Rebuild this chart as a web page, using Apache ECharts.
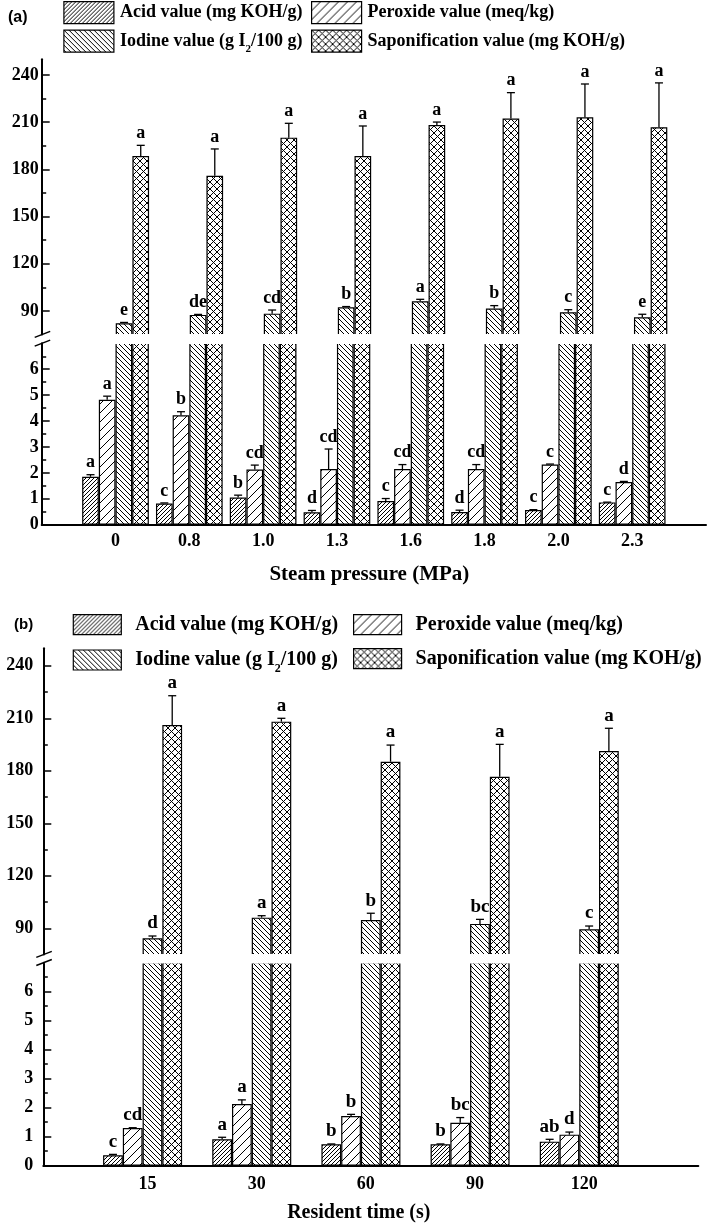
<!DOCTYPE html>
<html><head><meta charset="utf-8">
<script src="https://cdn.jsdelivr.net/npm/echarts@6/dist/echarts.min.js"></script>
<style>html,body{margin:0;padding:0;background:#fff}#c{width:709px;height:1228px}</style>
</head><body><div id="c"></div>
<script>
// ---------- DATA ----------
const NAME_ACID = 'Acid value (mg KOH/g)';
const NAME_PER = 'Peroxide value (meq/kg)';
const NAME_IOD = 'Iodine value (g I2/100 g)';
const NAME_SAP = 'Saponification value (mg KOH/g)';

// Panel (a): steam pressure
const catsA = ['0', '0.8', '1.0', '1.3', '1.6', '1.8', '2.0', '2.3'];
const acidA = [1.85, 0.82, 1.05, 0.48, 0.91, 0.49, 0.57, 0.86];
const acidErrA = [0.08, 0.02, 0.09, 0.07, 0.10, 0.07, 0.01, 0.01];
const acidLetA = ['a', 'c', 'b', 'd', 'c', 'd', 'c', 'c'];
const perA = [4.82, 4.22, 2.13, 2.15, 2.15, 2.15, 2.32, 1.65];
const perErrA = [0.14, 0.14, 0.17, 0.77, 0.17, 0.17, 0.02, 0.02];
const perLetA = ['a', 'b', 'cd', 'cd', 'cd', 'cd', 'c', 'd'];
const iodA = [82.2, 87.5, 88.3, 92.3, 96.2, 91.5, 89.2, 86.0];
const iodErrA = [0.5, 0.3, 2.3, 0.5, 1.2, 1.9, 1.6, 1.9];
const iodLetA = ['e', 'de', 'cd', 'b', 'a', 'b', 'c', 'e'];
const sapA = [188.5, 176.0, 200.2, 188.5, 208.2, 212.3, 213.1, 206.8];
const sapErrA = [6.8, 17.0, 9.1, 19.1, 1.9, 16.5, 21.2, 28.2];
const sapLetA = ['a', 'a', 'a', 'a', 'a', 'a', 'a', 'a'];

// Panel (b): resident time
const catsB = ['15', '30', '60', '90', '120'];
const acidB = [0.36, 0.91, 0.74, 0.74, 0.83];
const acidErrB = [0.03, 0.07, 0.01, 0.01, 0.08];
const acidLetB = ['c', 'a', 'b', 'b', 'ab'];
const perB = [1.30, 2.13, 1.71, 1.48, 1.07];
const perErrB = [0.01, 0.14, 0.06, 0.18, 0.09];
const perLetB = ['cd', 'a', 'b', 'bc', 'd'];
const iodB = [84.3, 96.1, 94.7, 92.5, 89.4];
const iodErrB = [1.3, 1.1, 3.9, 2.6, 1.9];
const iodLetB = ['d', 'a', 'b', 'bc', 'c'];
const sapB = [206.2, 208.1, 185.2, 176.6, 191.3];
const sapErrB = [16.7, 1.9, 9.5, 18.5, 13.0];
const sapLetB = ['a', 'a', 'a', 'a', 'a'];

// Axis ticks
const yTicksUpper = [90, 120, 150, 180, 210, 240];
const yMinorUpper = [105, 135, 165, 195, 225];
const yTicksLower = [0, 1, 2, 3, 4, 5, 6];
const yMinorLower = [0.5, 1.5, 2.5, 3.5, 4.5, 5.5, 6.5];

// ---------- STYLE HELPERS ----------
const FONT = 'Liberation Serif';
function hatch(dirs, s, lw) {
  const c = document.createElement('canvas'); c.width = s; c.height = s;
  const g = c.getContext('2d');
  g.fillStyle = '#fff'; g.fillRect(0, 0, s, s);
  g.strokeStyle = '#000'; g.lineWidth = lw; g.beginPath();
  dirs.forEach(d => {
    for (const o of [-s, 0, s]) {
      if (d === '/') { g.moveTo(o, s); g.lineTo(o + s, 0); }
      else { g.moveTo(o, 0); g.lineTo(o + s, s); }
    }
  });
  g.stroke();
  return c;
}
const fills = [hatch(['/'], 4, 1), hatch(['/'], 9, 1), hatch(['\\'], 5, 1), hatch(['/', '\\'], 7, 1)];
const NAMES = [NAME_ACID, NAME_PER, NAME_IOD, NAME_SAP];

const grid = [], xAxis = [], yAxis = [], series = [], legend = [], graphic = [];

function majorY(gi, min, max, ticks, margin) {
  return {gridIndex: gi, type: 'value', min, max, position: 'left',
    axisLine: {show: true, onZero: false, lineStyle: {color: '#000', width: 2}},
    axisTick: {show: true, inside: true, length: 8, customValues: ticks, lineStyle: {color: '#000', width: 1.5}},
    axisLabel: {show: true, customValues: ticks, color: '#000', fontFamily: FONT, fontWeight: 'bold', fontSize: 18, margin},
    splitLine: {show: false}};
}
function minorY(gi, min, max, ticks) {
  return {gridIndex: gi, type: 'value', min, max, position: 'left',
    axisLine: {show: false},
    axisTick: {show: true, inside: true, length: 4.5, customValues: ticks, lineStyle: {color: '#000', width: 1.5}},
    axisLabel: {show: false}, splitLine: {show: false}};
}
function errRender(off, letters, fs) {
  return function (params, api) {
    const ci = api.value(0), v = api.value(1), e = api.value(2);
    const p0 = api.coord([ci, v]);
    const p1 = api.coord([ci, v + e]);
    const x = p0[0] + off;
    const ch = [];
    if (p0[1] - p1[1] > 0.8) {
      ch.push({type: 'line', shape: {x1: x, y1: p0[1], x2: x, y2: p1[1]}, style: {stroke: '#000', lineWidth: 1.3}});
    }
    ch.push({type: 'line', shape: {x1: x - 4, y1: p1[1], x2: x + 4, y2: p1[1]}, style: {stroke: '#000', lineWidth: 1.3}});
    ch.push({type: 'text', x: x, y: p1[1] - 3,
      style: {text: letters[params.dataIndex], align: 'center', verticalAlign: 'bottom', fill: '#000',
        fontFamily: FONT, fontWeight: 'bold', fontSize: fs}});
    return {type: 'group', children: ch};
  };
}
function legendFmt(name) {
  if (name === NAME_IOD) return '{t|Iodine value (g I}{s|2}{t|/100 g)}';
  return '{t|' + name + '}';
}
function addLegend(name, left, top, w, h, fs, padL) {
  legend.push({data: [name], left, top, orient: 'horizontal', padding: 0, itemWidth: w, itemHeight: h,
    icon: 'rect', selectedMode: false, formatter: legendFmt,
    textStyle: {color: '#000', fontFamily: FONT, fontWeight: 'bold', fontSize: fs, padding: [0, 0, 0, padL],
      rich: {t: {fontFamily: FONT, fontWeight: 'bold', fontSize: fs, color: '#000'},
             s: {fontFamily: FONT, fontWeight: 'bold', fontSize: Math.round(fs * 0.6), lineHeight: Math.round(fs * 0.6), padding: [fs * 0.9, 0, 0, 0], color: '#000'}}},
    itemStyle: {borderColor: '#000', borderWidth: 1.2}});
}

function addPanel(P) {
  const g0 = grid.length;
  grid.push({left: P.left, width: P.width, top: P.upTop, height: P.upH});
  grid.push({left: P.left, width: P.width, top: P.loTop, height: P.loH});
  const cats = [''].concat(P.cats, ['']);
  const xu = xAxis.length;
  xAxis.push({gridIndex: g0, type: 'category', data: cats, boundaryGap: false, show: false});
  xAxis.push({gridIndex: g0 + 1, type: 'category', data: cats, boundaryGap: false,
    axisLine: {onZero: false, lineStyle: {color: '#000', width: 2}}, axisTick: {show: false},
    axisLabel: {interval: 0, color: '#000', fontFamily: FONT, fontWeight: 'bold', fontSize: 18, margin: P.xLabMargin, padding: P.xLabPad},
    name: P.xTitle, nameLocation: 'middle', nameGap: P.nameGap,
    nameTextStyle: {color: '#000', fontFamily: FONT, fontWeight: 'bold', fontSize: P.titleSize, padding: P.titlePad}});
  const yu = yAxis.length;
  yAxis.push(majorY(g0, 75, 250, yTicksUpper, P.yLabMargin));
  yAxis.push(minorY(g0, 75, 250, yMinorUpper));
  yAxis.push(majorY(g0 + 1, 0, 7, yTicksLower, P.yLabMargin));
  yAxis.push(minorY(g0 + 1, 0, 7, yMinorLower));
  const nSlots = P.pad ? 5 : 4;
  for (let k = 0; k < 4; k++) {
    for (const lvl of [0, 1]) {
      series.push({type: 'bar', name: NAMES[k], xAxisIndex: xu + lvl, yAxisIndex: yu + 2 * lvl,
        barWidth: P.bw, barGap: '0%', data: ['-'].concat(P.vals[k], ['-']),
        itemStyle: {color: {image: fills[k], repeat: 'repeat'}, borderColor: '#000', borderWidth: 1.2}, z: 2});
    }
  }
  if (P.pad) {
    for (const lvl of [0, 1]) {
      series.push({type: 'bar', name: '_pad', xAxisIndex: xu + lvl, yAxisIndex: yu + 2 * lvl,
        barWidth: P.bw, barGap: '0%', data: cats.map(() => '-')});
    }
  }
  for (let k = 0; k < 4; k++) {
    const lvl = k < 2 ? 1 : 0;
    const off = (k - (nSlots - 1) / 2) * P.bw;
    series.push({type: 'custom', xAxisIndex: xu + lvl, yAxisIndex: yu + 2 * lvl, z: 5, silent: true,
      data: P.vals[k].map((v, i) => [i + 1, v, P.errs[k][i]]),
      renderItem: errRender(off, P.lets[k], P.letSize)});
  }
  // gap between the two axis segments
  graphic.push({type: 'rect', z: 100, silent: true,
    shape: {x: P.left + 1.5, y: P.upTop + P.upH - 0.6, width: P.width, height: P.loTop - P.upTop - P.upH + 1.3},
    style: {fill: '#fff'}});
  // break marks
  const yb = P.upTop + P.upH, yt = P.loTop;
  for (const yy of [yb, yt]) {
    graphic.push({type: 'line', z: 101, silent: true,
      shape: {x1: P.left - 7, y1: yy + 2.8, x2: P.left + 8.5, y2: yy - 3.2},
      style: {stroke: '#000', lineWidth: 1.5}});
  }
}

addPanel({left: 41.7, width: 666.3, upTop: 59.3, upH: 275.25, loTop: 343.3, loH: 181.4,
  cats: catsA, vals: [acidA, perA, iodA, sapA], errs: [acidErrA, perErrA, iodErrA, sapErrA],
  lets: [acidLetA, perLetA, iodLetA, sapLetA], bw: 16.67, pad: false, letSize: 18,
  xLabMargin: 8, xLabPad: [0, 0, 0, 0], yLabMargin: 3, xTitle: 'Steam pressure (MPa)', nameGap: 39,
  titleSize: 21, titlePad: [0, 9, 0, 0]});

addPanel({left: 43.3, width: 655, upTop: 648.3, upH: 306.25, loTop: 962.7, loH: 203,
  cats: catsB, vals: [acidB, perB, iodB, sapB], errs: [acidErrB, perErrB, iodErrB, sapErrB],
  lets: [acidLetB, perLetB, iodLetB, sapLetB], bw: 19.75, pad: true, letSize: 19,
  xLabMargin: 10, xLabPad: [0, 10, 0, 0], yLabMargin: 10, xTitle: 'Resident time (s)', nameGap: 37,
  titleSize: 20, titlePad: [0, 24, 0, 0]});

// legends
addLegend(NAME_ACID, 63.3, 1, 50, 22, 18, 1);
addLegend(NAME_IOD, 63.3, 27.5, 50, 22, 18, 1);
addLegend(NAME_PER, 311, 1, 50, 22, 18, 1);
addLegend(NAME_SAP, 311, 29.5, 50, 22, 18, 1);
addLegend(NAME_ACID, 72.7, 614, 48, 20, 20, 9);
addLegend(NAME_IOD, 72.7, 645, 48, 20, 20, 9);
addLegend(NAME_PER, 353, 614, 48, 20, 20, 9);
addLegend(NAME_SAP, 353, 648, 48, 20, 20, 9);

// panel labels
graphic.push({type: 'text', x: 8, y: 17.5, style: {text: '(a)', fill: '#000', fontFamily: 'Liberation Sans', fontWeight: 'bold', fontSize: 16, verticalAlign: 'middle'}});
graphic.push({type: 'text', x: 14, y: 625, style: {text: '(b)', fill: '#000', fontFamily: 'Liberation Sans', fontWeight: 'bold', fontSize: 15, verticalAlign: 'middle'}});

const chart = echarts.init(document.getElementById('c'), null, {renderer: 'canvas'});
chart.setOption({
  backgroundColor: '#fff', animation: false,
  grid, xAxis, yAxis, series, legend, graphic
});
</script>
</body></html>
